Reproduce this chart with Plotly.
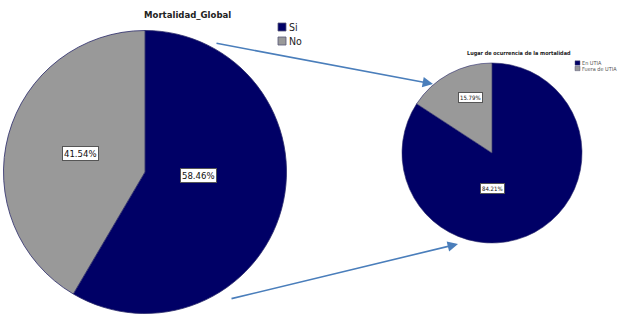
import plotly.graph_objects as go

# Data
global_labels = ["Si", "No"]
global_values = [58.46, 41.54]
place_labels = ["En UTIA", "Fuera de UTIA"]
place_values = [84.21, 15.79]
colors = ["#000066", "#999999"]

title_main = "Mortalidad_Global"
title_place = "Lugar de ocurrencia de la mortalidad"

FONT = "DejaVu Sans Condensed, Liberation Sans Narrow, Liberation Sans, sans-serif"
W, H = 633, 325

def dom(cx, cy, d):
    return dict(x=[(cx - d / 2) / W, (cx + d / 2) / W],
                y=[1 - (cy + d / 2) / H, 1 - (cy - d / 2) / H])

fig = go.Figure()
fig.add_trace(go.Pie(
    labels=global_labels, values=global_values, sort=False, direction="clockwise",
    rotation=0, marker=dict(colors=colors, line=dict(color="#2a2a6a", width=0.8)),
    textinfo="none", hoverinfo="label+percent", domain=dom(145, 172, 283), showlegend=False,
))
fig.add_trace(go.Pie(
    labels=place_labels, values=place_values, sort=False, direction="clockwise",
    rotation=0, marker=dict(colors=colors, line=dict(color="#2a2a6a", width=0.6)),
    textinfo="none", hoverinfo="label+percent", domain=dom(492, 153, 180), showlegend=False,
))

def lbl(x, y, v, size):
    return dict(x=x / W, y=1 - y / H, xref="paper", yref="paper", text=f"{v:.2f}%", showarrow=False,
                xanchor="center", yanchor="middle",
                font=dict(family=FONT, size=size, color="#111111"), bgcolor="white",
                bordercolor="#555555", borderwidth=1, borderpad=1)

def arrow(hx, hy, tx, ty):
    return dict(x=hx / W, y=1 - hy / H, xref="paper", yref="paper",
                ax=tx - hx, ay=ty - hy, axref="pixel", ayref="pixel",
                showarrow=True, arrowhead=2, arrowsize=1.3, arrowwidth=1.6,
                arrowcolor="#4a7ebb", text="")

def text(x, y, s, size, color="#222222", anchor="center"):
    return dict(x=x / W, y=1 - y / H, xref="paper", yref="paper", text=s, showarrow=False,
                xanchor=anchor, yanchor="middle", font=dict(family=FONT, size=size, color=color))

anns = [
    lbl(198, 175, global_values[0], 9.5),
    lbl(80, 153, global_values[1], 9.5),
    lbl(492, 188, place_values[0], 6),
    lbl(470, 97, place_values[1], 6),
    text(188, 14, "<b>" + title_main + "</b>", 9.5),
    text(519, 53, "<b>" + title_place + "</b>", 5.5),
    arrow(433, 84, 215, 43),
    arrow(458, 244, 230, 299),
]

shapes = []
# legend for main pie
for i, (lab, col) in enumerate(zip(global_labels, colors)):
    yc = 27 + i * 14
    shapes.append(dict(type="rect", xref="paper", yref="paper",
                       x0=278 / W, x1=286 / W, y0=1 - (yc + 4) / H, y1=1 - (yc - 4) / H,
                       fillcolor=col, line=dict(color="#555577", width=0.8)))
    anns.append(text(287, yc, lab, 10.5, anchor="left"))
# legend for place pie
for i, (lab, col) in enumerate(zip(place_labels, colors)):
    yc = 63 + i * 5.5
    shapes.append(dict(type="rect", xref="paper", yref="paper",
                       x0=575 / W, x1=580 / W, y0=1 - (yc + 2.2) / H, y1=1 - (yc - 2.2) / H,
                       fillcolor=col, line=dict(color="#555577", width=0.5)))
    anns.append(text(580, yc, lab, 5.5, color="#555555", anchor="left"))

fig.update_layout(
    width=W, height=H, margin=dict(l=0, r=0, t=0, b=0),
    paper_bgcolor="white", plot_bgcolor="white",
    annotations=anns, shapes=shapes, showlegend=False,
)

fig.write_html("out.html")
